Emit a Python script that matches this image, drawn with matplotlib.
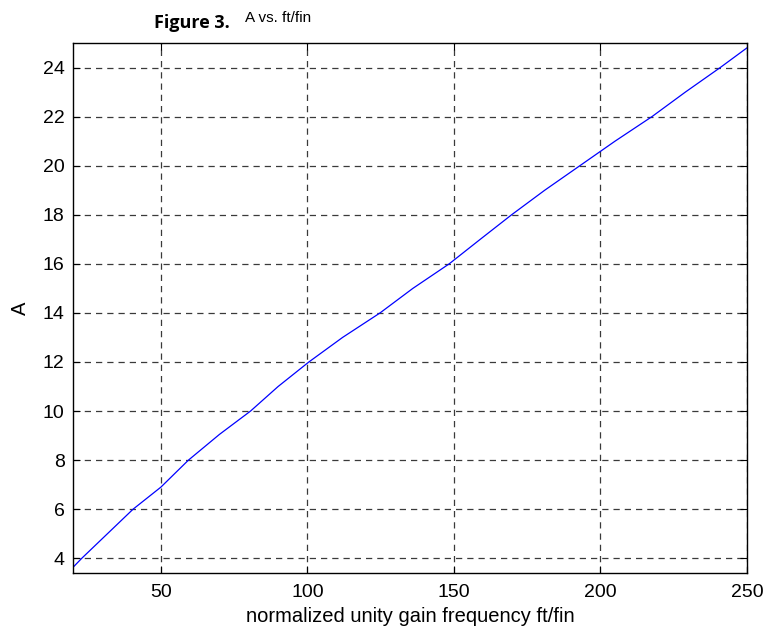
import matplotlib
matplotlib.use("agg")
import matplotlib.pyplot as plt

# A vs. normalized unity gain frequency
ft_fin = [20, 23, 30, 40.5, 50, 59.4, 70, 80.6, 90, 100.5, 112, 124.8, 136,
          148.4, 159, 169.7, 181, 193, 205, 217.6, 229, 240.9, 250]
gain = [3.63, 4.0, 4.8, 6.0, 6.9, 8.0, 9.05, 10.0, 11.0, 12.0, 13.0, 14.0, 15.0,
        16.0, 17.0, 18.0, 19.0, 20.0, 21.0, 22.0, 23.0, 24.0, 24.8]
xticks = [50, 100, 150, 200, 250]
yticks = [4, 6, 8, 10, 12, 14, 16, 18, 20, 22, 24]

plt.rcParams["font.family"] = ["Liberation Sans", "DejaVu Sans"]

fig = plt.figure(figsize=(7.66, 6.33), dpi=100)
ax = fig.add_axes([0.0953, 0.0948, 0.8797, 0.8372])
ax.plot(ft_fin, gain, color="blue", lw=0.9)

ax.set_xlim(20, 250)
ax.set_ylim(3.4, 25)
ax.set_xticks(xticks)
ax.set_yticks(yticks)
ax.tick_params(direction="in", top=True, right=True, length=5, labelsize=14)
ax.tick_params(axis="x", pad=8)
ax.tick_params(axis="y", pad=6)
ax.grid(True, ls=(0, (5, 4)), color="#3a3a3a", lw=0.9)
for s in ax.spines.values():
    s.set_linewidth(1.0)

ax.set_xlabel("normalized unity gain frequency ft/fin", fontsize=14.5, labelpad=4)
ax.set_ylabel("A", fontsize=14.5, labelpad=9)

fig.text(0.25, 0.964, "Figure 3.", fontsize=13, fontweight="bold",
         family="Open Sans", ha="center", va="center")
fig.text(0.363, 0.972, "A vs. ft/fin", fontsize=11, ha="center", va="center")

fig.savefig("out.png")
